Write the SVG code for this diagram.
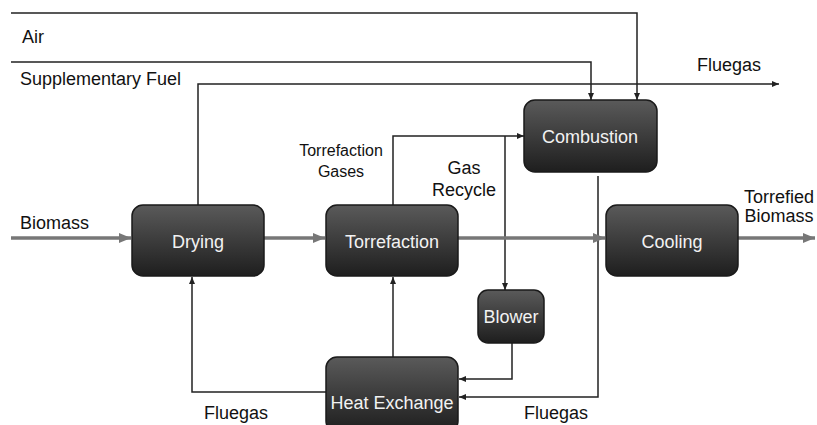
<svg xmlns="http://www.w3.org/2000/svg" width="817" height="425" viewBox="0 0 817 425">
<style>
.box{fill:url(#g);stroke:#1a1a1a;stroke-width:1.5}
.bt{font-family:"Liberation Sans",Arial,sans-serif;font-size:18px;fill:#f2f2f2;text-anchor:middle}
.lb{font-family:"Liberation Sans",Arial,sans-serif;font-size:18px;fill:#111}
.sm{font-family:"Liberation Sans",Arial,sans-serif;font-size:16px;fill:#111;text-anchor:middle}
.ln{fill:none;stroke:#222;stroke-width:1.5}
.th{fill:none;stroke:#777;stroke-width:3.5}
</style>
<defs>
<linearGradient id="g" x1="0" y1="0" x2="0" y2="1">
<stop offset="0" stop-color="#5a5a5a"/>
<stop offset="1" stop-color="#1e1e1e"/>
</linearGradient>
<marker id="a" markerWidth="8" markerHeight="8" refX="7" refY="4" orient="auto" markerUnits="userSpaceOnUse">
<path d="M0,1 L7,4 L0,7 Z" fill="#222"/>
</marker>
<marker id="b" markerWidth="14" markerHeight="12" refX="12" refY="6" orient="auto" markerUnits="userSpaceOnUse">
<path d="M0,1 L12,6 L0,11 Z" fill="#777"/>
</marker>
</defs>
<rect width="817" height="425" fill="#fff"/>
<g id="connectors">
<polyline class="ln" points="11,13 637,13 637,100" marker-end="url(#a)"/>
<polyline class="ln" points="11,62 591,62 591,100" marker-end="url(#a)"/>
<polyline class="ln" points="198,205 198,84 779,84" marker-end="url(#a)"/>
<polyline class="ln" points="393,205 393,136 524,136" marker-end="url(#a)"/>
<polyline class="ln" points="505,136 505,290" marker-end="url(#a)"/>
<polyline class="ln" points="598,176 598,397 459,397" marker-end="url(#a)"/>
<polyline class="ln" points="512,343 512,379 459,379" marker-end="url(#a)"/>
<polyline class="ln" points="393,357 393,277" marker-end="url(#a)"/>
<polyline class="ln" points="326,392 192,392 192,277" marker-end="url(#a)"/>
<line class="th" x1="11" y1="238" x2="131" y2="238" marker-end="url(#b)"/>
<line class="th" x1="264" y1="238" x2="325" y2="238" marker-end="url(#b)"/>
<line class="th" x1="458" y1="238" x2="605" y2="238" marker-end="url(#b)"/>
<line class="th" x1="738" y1="238" x2="815" y2="238" marker-end="url(#b)"/>
</g>
<g id="labels">
<text class="lb" x="22" y="43">Air</text>
<text class="lb" x="20" y="85">Supplementary Fuel</text>
<text class="lb" x="697" y="71">Fluegas</text>
<text class="sm" x="341" y="156">Torrefaction</text>
<text class="sm" x="341" y="177">Gases</text>
<text class="lb" x="464" y="174" text-anchor="middle">Gas</text>
<text class="lb" x="464" y="196" text-anchor="middle">Recycle</text>
<text class="lb" x="20" y="229">Biomass</text>
<text class="lb" x="779" y="203" text-anchor="middle">Torrefied</text>
<text class="lb" x="779" y="222" text-anchor="middle">Biomass</text>
<text class="lb" x="204" y="419">Fluegas</text>
<text class="lb" x="524" y="419">Fluegas</text>
</g>
<g id="combustion"><rect class="box" x="524" y="100" width="133" height="72" rx="11"/><text class="bt" x="590" y="143">Combustion</text></g>
<g id="drying"><rect class="box" x="132" y="205" width="132" height="71" rx="11"/><text class="bt" x="198" y="248">Drying</text></g>
<g id="torrefaction"><rect class="box" x="326" y="205" width="132" height="71" rx="11"/><text class="bt" x="392" y="248">Torrefaction</text></g>
<g id="cooling"><rect class="box" x="606" y="205" width="132" height="71" rx="11"/><text class="bt" x="672" y="248">Cooling</text></g>
<g id="blower"><rect class="box" x="478" y="290" width="66" height="53" rx="10"/><text class="bt" x="511" y="323">Blower</text></g>
<g id="heat-exchange"><rect class="box" x="326" y="357" width="132" height="75" rx="11"/><text class="bt" x="392" y="409">Heat Exchange</text></g>
</svg>
